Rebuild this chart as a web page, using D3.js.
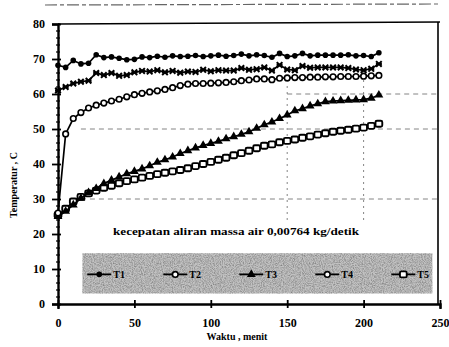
<!DOCTYPE html>
<html>
<head>
<meta charset="utf-8">
<script src="https://cdn.jsdelivr.net/npm/d3@7"></script>
<style>
  body { margin: 0; background: #fff; }
  svg { display: block; }
  .tick text { font-family: "Liberation Serif", serif; font-weight: bold; font-size: 12px; }
</style>
</head>
<body>
<div id="chart"></div>
<script>
// waktu (menit)
const times = d3.range(0, 211, 5);
const seriesNames = ['T1', 'T2', 'T3', 'T4', 'T5'];
const t1 = [68.2, 67.6, 69.6, 68.6, 68.8, 71.2, 70.4, 70.6, 70.2, 69.8, 69.9, 70.6, 70.4, 70.8, 70.5, 70.9, 70.7, 70.8, 71.0, 70.7, 70.9, 71.1, 70.8, 71.0, 71.4, 70.9, 71.2, 71.0, 70.5, 71.6, 70.7, 70.9, 71.6, 70.9, 71.1, 71.1, 71.1, 71.1, 71.2, 70.9, 71.0, 70.7, 71.8];
const t2 = [25.4, 27.2, 29.3, 30.6, 31.6, 32.4, 33.2, 33.8, 34.5, 35.1, 35.6, 36.1, 36.6, 37.1, 37.5, 37.9, 38.3, 38.8, 39.4, 40.0, 40.6, 41.2, 41.8, 42.5, 43.1, 43.8, 44.5, 45.2, 45.6, 46.2, 46.6, 47.0, 47.5, 47.9, 48.4, 48.8, 49.2, 49.5, 49.8, 50.1, 50.4, 50.9, 51.5];
const t3 = [25.0, 26.5, 28.3, 30.2, 31.8, 33.0, 34.4, 35.4, 36.3, 37.2, 37.9, 38.6, 39.5, 40.5, 41.2, 42.0, 43.0, 43.8, 44.6, 45.3, 45.9, 46.5, 47.2, 47.8, 48.5, 49.2, 50.2, 51.2, 52.0, 53.0, 54.0, 55.2, 55.8, 56.6, 57.2, 57.8, 58.0, 58.1, 58.2, 58.3, 58.4, 58.8, 59.7];
const t4 = [26.0, 48.6, 53.0, 54.7, 56.0, 56.8, 57.4, 58.0, 58.5, 59.2, 59.8, 60.2, 60.6, 60.9, 61.3, 61.8, 62.4, 62.8, 63.0, 63.0, 63.1, 63.2, 63.3, 63.5, 63.8, 64.0, 64.3, 64.3, 64.1, 64.5, 64.6, 64.7, 64.7, 64.8, 64.8, 64.9, 64.9, 65.0, 65.0, 65.0, 65.1, 65.2, 65.3];
const t5 = [61.0, 62.0, 63.0, 63.5, 63.8, 66.0, 65.4, 66.0, 65.2, 65.4, 66.2, 66.6, 66.4, 66.8, 66.2, 66.6, 66.1, 66.4, 66.3, 66.9, 66.5, 66.8, 66.7, 66.7, 67.4, 66.9, 67.1, 67.6, 66.7, 68.3, 67.0, 66.8, 68.0, 67.5, 67.6, 67.6, 67.6, 67.6, 67.4, 67.0, 66.8, 67.2, 68.6];
const xTicks = [0, 50, 100, 150, 200, 250];
const yTicks = [0, 10, 20, 30, 40, 50, 60, 70, 80];
const gridY = [30, 50, 60];
const gridX = [150, 200];
const note = 'kecepatan aliran massa air 0,00764 kg/detik';

const W = 449, H = 347;
const margin = {top: 24, right: 9, bottom: 43, left: 58};
const w = W - margin.left - margin.right;
const h = H - margin.top - margin.bottom;

const svg = d3.select('#chart').append('svg').attr('width', W).attr('height', H);

// noise filter for the grey legend box
const defs = svg.append('defs');
const f = defs.append('filter').attr('id', 'noise').attr('x', 0).attr('y', 0).attr('width', 1).attr('height', 1);
f.append('feTurbulence').attr('type', 'fractalNoise').attr('baseFrequency', 0.9).attr('numOctaves', 2).attr('seed', 4);
f.append('feColorMatrix').attr('type', 'matrix')
  .attr('values', '0 0 0 0 0.2  0 0 0 0 0.2  0 0 0 0 0.2  1.8 0 0 0 -0.65');
f.append('feComposite').attr('in2', 'SourceGraphic').attr('operator', 'in');

// scan smudge line at the very top
svg.append('line').attr('x1', 45).attr('x2', 440).attr('y1', 5).attr('y2', 4)
  .attr('stroke', '#666').attr('stroke-width', 1.2).attr('stroke-dasharray', '12,3,4,3');

const g = svg.append('g').attr('transform', `translate(${margin.left},${margin.top})`);

const x = d3.scaleLinear().domain([0, 250]).range([0, w]);
const y = d3.scaleLinear().domain([0, 80]).range([h, 0]);

// faint dashed grid (only the visible parts of the scan)
g.selectAll('.gy').data(gridY).enter().append('line')
  .attr('x1', d => d === 60 ? x(150) : x(15)).attr('x2', w)
  .attr('y1', d => y(d)).attr('y2', d => y(d))
  .attr('stroke', '#777').attr('stroke-width', 0.9).attr('stroke-dasharray', '5,4');
g.selectAll('.gx').data(gridX).enter().append('line')
  .attr('x1', d => x(d)).attr('x2', d => x(d))
  .attr('y1', y(64)).attr('y2', y(24))
  .attr('stroke', '#777').attr('stroke-width', 0.9).attr('stroke-dasharray', '2,4');

// frame: top + right
g.append('line').attr('x1', 0).attr('x2', w).attr('y1', 0).attr('y2', -2).attr('stroke', '#000').attr('stroke-width', 1.6);
g.append('line').attr('x1', w - 2).attr('x2', w - 2).attr('y1', -2).attr('y2', h).attr('stroke', '#000').attr('stroke-width', 1.6);

// legend box
const lg = g.append('g').attr('transform', `translate(${x(16)},${y(14.5)})`);
const lw = x(245) - x(16), lh = y(3) - y(14.5);
lg.append('rect').attr('width', lw).attr('height', lh).attr('fill', '#c2c2c2');
lg.append('rect').attr('width', lw).attr('height', lh).attr('fill', '#000').attr('filter', 'url(#noise)');

// note text
g.append('text').attr('x', x(36)).attr('y', y(19.8))
  .attr('font-family', '"Liberation Serif", serif').attr('font-weight', 'bold').attr('font-size', 10.5)
  .attr('textLength', 246).attr('lengthAdjust', 'spacingAndGlyphs')
  .text(note);

// axes
const xAxis = d3.axisBottom(x).tickValues(xTicks).tickSize(5).tickPadding(7);
const yAxis = d3.axisLeft(y).tickValues(yTicks).tickSize(6).tickPadding(7);
const gx = g.append('g').attr('transform', `translate(0,${h})`).call(xAxis);
const gyA = g.append('g').call(yAxis);
[gx, gyA].forEach(a => {
  a.select('.domain').attr('stroke-width', 2.4);
  a.selectAll('.tick line').attr('stroke-width', 1.8);
});
gyA.selectAll('.tick line').attr('x2', 3).attr('x1', -6);
gx.selectAll('.tick line').attr('y1', -4).attr('y2', 4);
gx.selectAll('.tick text').attr('dy', '0.9em');
// minor ticks on y axis
g.append('g').selectAll('line').data(d3.range(0, 80, 2).filter(v => v % 10 !== 0)).enter().append('line')
  .attr('x1', -2).attr('x2', 2).attr('y1', d => y(d)).attr('y2', d => y(d))
  .attr('stroke', '#000').attr('stroke-width', 1.2);

// series
const series = [
  {name: 'T1', vals: t1, sym: 'dot'},
  {name: 'T2', vals: t2, sym: 'square'},
  {name: 'T3', vals: t3, sym: 'tri'},
  {name: 'T4', vals: t4, sym: 'circle'},
  {name: 'T5', vals: t5, sym: 'cross'}
];
const line = d3.line().x(d => x(d[0])).y(d => y(d[1]));

function drawSym(sel, sym) {
  if (sym === 'dot') {
    sel.append('circle').attr('r', 2.8).attr('fill', '#000');
  } else if (sym === 'square') {
    sel.append('rect').attr('x', -3.4).attr('y', -3).attr('width', 6.8).attr('height', 6).attr('rx', 1.5)
      .attr('fill', '#fff').attr('stroke', '#000').attr('stroke-width', 1.9);
  } else if (sym === 'tri') {
    sel.append('path').attr('d', d3.symbol(d3.symbolTriangle, 34)()).attr('fill', '#000');
  } else if (sym === 'circle') {
    sel.append('circle').attr('r', 2.8).attr('fill', '#fff').attr('stroke', '#000').attr('stroke-width', 1.6);
  } else if (sym === 'cross') {
    sel.append('path').attr('d', 'M-2.8,-2.8L2.8,2.8M2.8,-2.8L-2.8,2.8').attr('stroke', '#000').attr('stroke-width', 2);
    sel.append('rect').attr('x', -3).attr('y', -1.2).attr('width', 6).attr('height', 2.4).attr('fill', '#000');
  }
}

series.forEach(s => {
  const pts = times.map((t, i) => [t, s.vals[i]]);
  g.append('path').datum(pts).attr('d', line)
    .attr('fill', 'none').attr('stroke', '#000').attr('stroke-width', 1.7);
  const m = g.append('g').selectAll('g').data(pts).enter().append('g')
    .attr('transform', d => `translate(${x(d[0])},${y(d[1])})`);
  drawSym(m, s.sym);
});

// legend entries
const legendSym = ['dot', 'circle', 'tri', 'circle', 'square'];
const lx = d3.scalePoint().domain(seriesNames).range([x(27), x(226)]);
seriesNames.forEach((n, i) => {
  const e = lg.append('g').attr('transform', `translate(${lx(n) - x(16)},${lh / 2 + 1})`);
  e.append('line').attr('x1', -12).attr('x2', 12).attr('stroke', '#000').attr('stroke-width', 1.8);
  drawSym(e, legendSym[i]);
  e.append('text').attr('x', 14).attr('y', 4)
    .attr('font-family', '"Liberation Serif", serif').attr('font-weight', 'bold').attr('font-size', 10)
    .text(n);
});

// axis titles
svg.append('text').attr('x', 237).attr('y', 340).attr('text-anchor', 'middle')
  .attr('font-family', '"Liberation Serif", serif').attr('font-weight', 'bold').attr('font-size', 10)
  .text('Waktu , menit');
svg.append('text').attr('transform', 'translate(17,185) rotate(-90)').attr('text-anchor', 'middle')
  .attr('font-family', '"Liberation Serif", serif').attr('font-weight', 'bold').attr('font-size', 10)
  .text('Temperatur , C');
</script>
</body>
</html>
